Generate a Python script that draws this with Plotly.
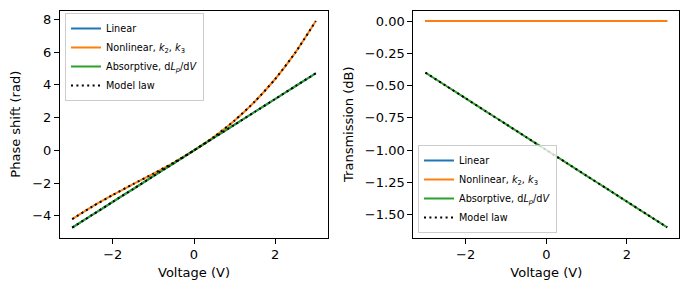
import plotly.graph_objects as go

# ---- data ----
voltage = [-3.0, -2.5, -2.0, -1.5, -1.0, -0.5, 0.0, 0.5, 1.0, 1.5, 2.0, 2.5, 3.0]

phase_linear = [-4.71, -3.93, -3.14, -2.36, -1.57, -0.79, 0.0, 0.79, 1.57, 2.36, 3.14, 3.93, 4.71]
phase_nonlinear = [-4.20, -3.42, -2.72, -2.06, -1.42, -0.74, 0.0, 0.84, 1.83, 2.99, 4.36, 5.99, 7.90]
phase_absorptive = [-4.71, -3.93, -3.14, -2.36, -1.57, -0.79, 0.0, 0.79, 1.57, 2.36, 3.14, 3.93, 4.71]
phase_model_nonlinear = [-4.20, -3.42, -2.72, -2.06, -1.42, -0.74, 0.0, 0.84, 1.83, 2.99, 4.36, 5.99, 7.90]
phase_model_absorptive = [-4.71, -3.93, -3.14, -2.36, -1.57, -0.79, 0.0, 0.79, 1.57, 2.36, 3.14, 3.93, 4.71]

trans_linear = [0.0, 0.0, 0.0, 0.0, 0.0, 0.0, 0.0, 0.0, 0.0, 0.0, 0.0, 0.0, 0.0]
trans_nonlinear = [0.0, 0.0, 0.0, 0.0, 0.0, 0.0, 0.0, 0.0, 0.0, 0.0, 0.0, 0.0, 0.0]
trans_absorptive = [-0.40, -0.50, -0.60, -0.70, -0.80, -0.90, -1.00, -1.10, -1.20, -1.30, -1.40, -1.50, -1.60]
trans_model = [-0.40, -0.50, -0.60, -0.70, -0.80, -0.90, -1.00, -1.10, -1.20, -1.30, -1.40, -1.50, -1.60]

names = ["Linear",
         "Nonlinear, <i>k</i><sub>2</sub>, <i>k</i><sub>3</sub>",
         "Absorptive, d<i>L</i><sub><i>p</i></sub>/d<i>V</i>",
         "Model law"]
colors = ["#1f77b4", "#ff7f0e", "#2ca02c", "black"]

FONT = "DejaVu Sans"
LW = 2
DOT = "2px,3.4px"

fig = go.Figure()

def add(x, y, name, color, xa, ya, legend, show=True, dash="solid"):
    fig.add_trace(go.Scatter(
        x=x, y=y, name=name, mode="lines",
        line=dict(color=color, width=LW, dash=dash, shape="spline", smoothing=0.6),
        xaxis=xa, yaxis=ya, legend=legend, showlegend=show))

# left panel
add(voltage, phase_linear, names[0], colors[0], "x", "y", "legend")
add(voltage, phase_nonlinear, names[1], colors[1], "x", "y", "legend")
add(voltage, phase_absorptive, names[2], colors[2], "x", "y", "legend")
add(voltage, phase_model_nonlinear, names[3], colors[3], "x", "y", "legend", dash=DOT)
add(voltage, phase_model_absorptive, names[3], colors[3], "x", "y", "legend", show=False, dash=DOT)

# right panel
add(voltage, trans_linear, names[0], colors[0], "x2", "y2", "legend2")
add(voltage, trans_nonlinear, names[1], colors[1], "x2", "y2", "legend2")
add(voltage, trans_absorptive, names[2], colors[2], "x2", "y2", "legend2")
add(voltage, trans_model, names[3], colors[3], "x2", "y2", "legend2", dash=DOT)

axis_common = dict(
    showline=True, linecolor="black", linewidth=1, mirror=True,
    ticks="outside", ticklen=5, tickwidth=1, tickcolor="black",
    showgrid=False, zeroline=False,
    tickfont=dict(family=FONT, size=13, color="black"),
)

ydom = [1 - 237.7 / 290, 1 - 10.7 / 290]

legend_common = dict(
    xanchor="left", bgcolor="rgba(255,255,255,0.8)", bordercolor="#cccccc", borderwidth=1,
    font=dict(family=FONT, size=9.7, color="black"), itemwidth=30, tracegroupgap=0,
)

fig.update_layout(
    width=690, height=290,
    margin=dict(l=0, r=0, t=0, b=0),
    paper_bgcolor="white", plot_bgcolor="white",
    font=dict(family=FONT, size=13, color="black"),
    xaxis=dict(domain=[60 / 690, 328 / 690], range=[-3.3, 3.3], tickvals=[-2, 0, 2],
               title=dict(text="Voltage (V)", font=dict(size=13), standoff=6), anchor="y", **axis_common),
    yaxis=dict(domain=ydom, range=[-5.33, 8.53], tickvals=[-4, -2, 0, 2, 4, 6, 8],
               title=dict(text="Phase shift (rad)", font=dict(size=13), standoff=8), anchor="x", **axis_common),
    xaxis2=dict(domain=[413.3 / 690, 679.3 / 690], range=[-3.3, 3.3], tickvals=[-2, 0, 2],
                title=dict(text="Voltage (V)", font=dict(size=13), standoff=6), anchor="y2", **axis_common),
    yaxis2=dict(domain=ydom, range=[-1.68, 0.08],
                tickvals=[0, -0.25, -0.5, -0.75, -1.0, -1.25, -1.5], tickformat=".2f",
                title=dict(text="Transmission (dB)", font=dict(size=13), standoff=8), anchor="x2", **axis_common),
    legend=dict(x=65 / 690, y=1 - 13 / 290, yanchor="top", **legend_common),
    legend2=dict(x=418 / 690, y=1 - 233 / 290, yanchor="bottom", **legend_common),
)

fig.write_html("out.html", config={"displayModeBar": False})
